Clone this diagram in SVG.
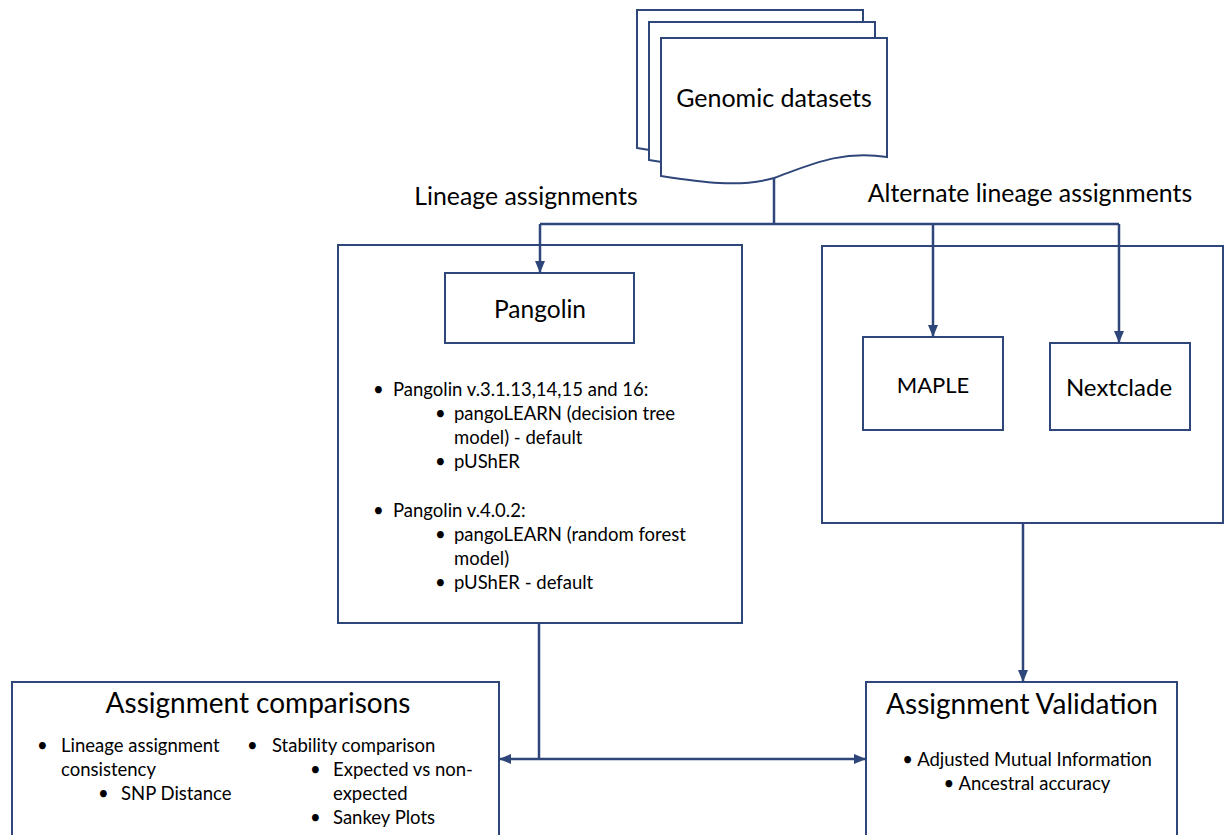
<svg xmlns="http://www.w3.org/2000/svg" width="1225" height="835" viewBox="0 0 1225 835">
<style>
.box{fill:#fff;stroke:#2E4679;stroke-width:2}
.doc{fill:#fff;stroke:#2E4679;stroke-width:2;stroke-linejoin:miter}
.con{fill:none;stroke:#2E4679;stroke-width:2.5}
text{font-family:Lato,"Open Sans","Liberation Sans",sans-serif;fill:#000}
.t17{font-size:18.5px}
.lbl{font-size:24.8px}
</style>
<defs>
<marker id="ah" markerUnits="userSpaceOnUse" markerWidth="12" markerHeight="10" viewBox="0 0 12 10" refX="11" refY="5" orient="auto">
<path d="M0,0 L12,5 L0,10 Z" fill="#2E4679"/>
</marker>
<path id="page" d="M0,0 H226 V119 C179,112 149,127 113,140 C79,150 39,144 0,138 Z"/>
</defs>
<rect width="1225" height="835" fill="#fff"/>
<g id="genomic-datasets">
<use href="#page" class="doc" x="637" y="10"/>
<use href="#page" class="doc" x="649" y="22"/>
<use href="#page" class="doc" x="661" y="38"/>
<text x="774" y="107" font-size="25" text-anchor="middle">Genomic datasets</text>
</g>
<g id="labels">
<text class="lbl" x="526" y="205" text-anchor="middle">Lineage assignments</text>
<text class="lbl" x="1030" y="202" text-anchor="middle">Alternate lineage assignments</text>
</g>
<g id="pangolin-group">
<rect class="box" x="338" y="245" width="404" height="378"/>
<text class="t17" x="373" y="396">•</text>
<text class="t17" x="393" y="396">Pangolin v.3.1.13,14,15 and 16:</text>
<text class="t17" x="435" y="420">•</text>
<text class="t17" x="454" y="420">pangoLEARN (decision tree</text>
<text class="t17" x="454" y="444">model) - default</text>
<text class="t17" x="435" y="468">•</text>
<text class="t17" x="454" y="468">pUShER</text>
<text class="t17" x="373" y="517">•</text>
<text class="t17" x="393" y="517">Pangolin v.4.0.2:</text>
<text class="t17" x="435" y="541">•</text>
<text class="t17" x="454" y="541">pangoLEARN (random forest</text>
<text class="t17" x="454" y="565">model)</text>
<text class="t17" x="435" y="589">•</text>
<text class="t17" x="454" y="589">pUShER - default</text>
</g>
<g id="pangolin">
<rect class="box" x="445" y="273" width="189" height="70"/>
<text x="540" y="318" font-size="24.5" text-anchor="middle">Pangolin</text>
</g>
<g id="alternate-group">
<rect class="box" x="822" y="246" width="401" height="277"/>
</g>
<g id="maple">
<rect class="box" x="863" y="337" width="140" height="93"/>
<text x="933" y="393" font-size="22" text-anchor="middle">MAPLE</text>
</g>
<g id="nextclade">
<rect class="box" x="1050" y="343" width="140" height="87"/>
<text x="1119" y="396" font-size="24" text-anchor="middle">Nextclade</text>
</g>
<g id="assignment-comparisons">
<rect class="box" x="12" y="682" width="487" height="170"/>
<text x="258" y="713" font-size="28" text-anchor="middle">Assignment comparisons</text>
<text class="t17" x="37" y="752">•</text>
<text class="t17" x="61" y="752">Lineage assignment</text>
<text class="t17" x="61" y="776">consistency</text>
<text class="t17" x="98" y="800">•</text>
<text class="t17" x="121" y="800">SNP Distance</text>
<text class="t17" x="247" y="752">•</text>
<text class="t17" x="272" y="752">Stability comparison</text>
<text class="t17" x="310" y="776">•</text>
<text class="t17" x="333" y="776">Expected vs non-</text>
<text class="t17" x="333" y="800">expected</text>
<text class="t17" x="310" y="824">•</text>
<text class="t17" x="333" y="824">Sankey Plots</text>
</g>
<g id="assignment-validation">
<rect class="box" x="866" y="682" width="311" height="170"/>
<text x="1022" y="714" font-size="28" text-anchor="middle">Assignment Validation</text>
<text class="t17" x="1027" y="766" text-anchor="middle">• Adjusted Mutual Information</text>
<text class="t17" x="1027" y="790" text-anchor="middle">• Ancestral accuracy</text>
</g>
<g id="connectors">
<path class="con" d="M774,178 V224"/>
<path class="con" d="M540,224 H1119"/>
<path class="con" d="M540,224 V272" marker-end="url(#ah)"/>
<path class="con" d="M933,224 V336" marker-end="url(#ah)"/>
<path class="con" d="M1119,224 V342" marker-end="url(#ah)"/>
<path class="con" d="M1023,523 V681" marker-end="url(#ah)"/>
<path class="con" d="M539,623 V759"/>
<path class="con" d="M539,759 H500" marker-end="url(#ah)"/>
<path class="con" d="M539,759 H865" marker-end="url(#ah)"/>
</g>
</svg>
